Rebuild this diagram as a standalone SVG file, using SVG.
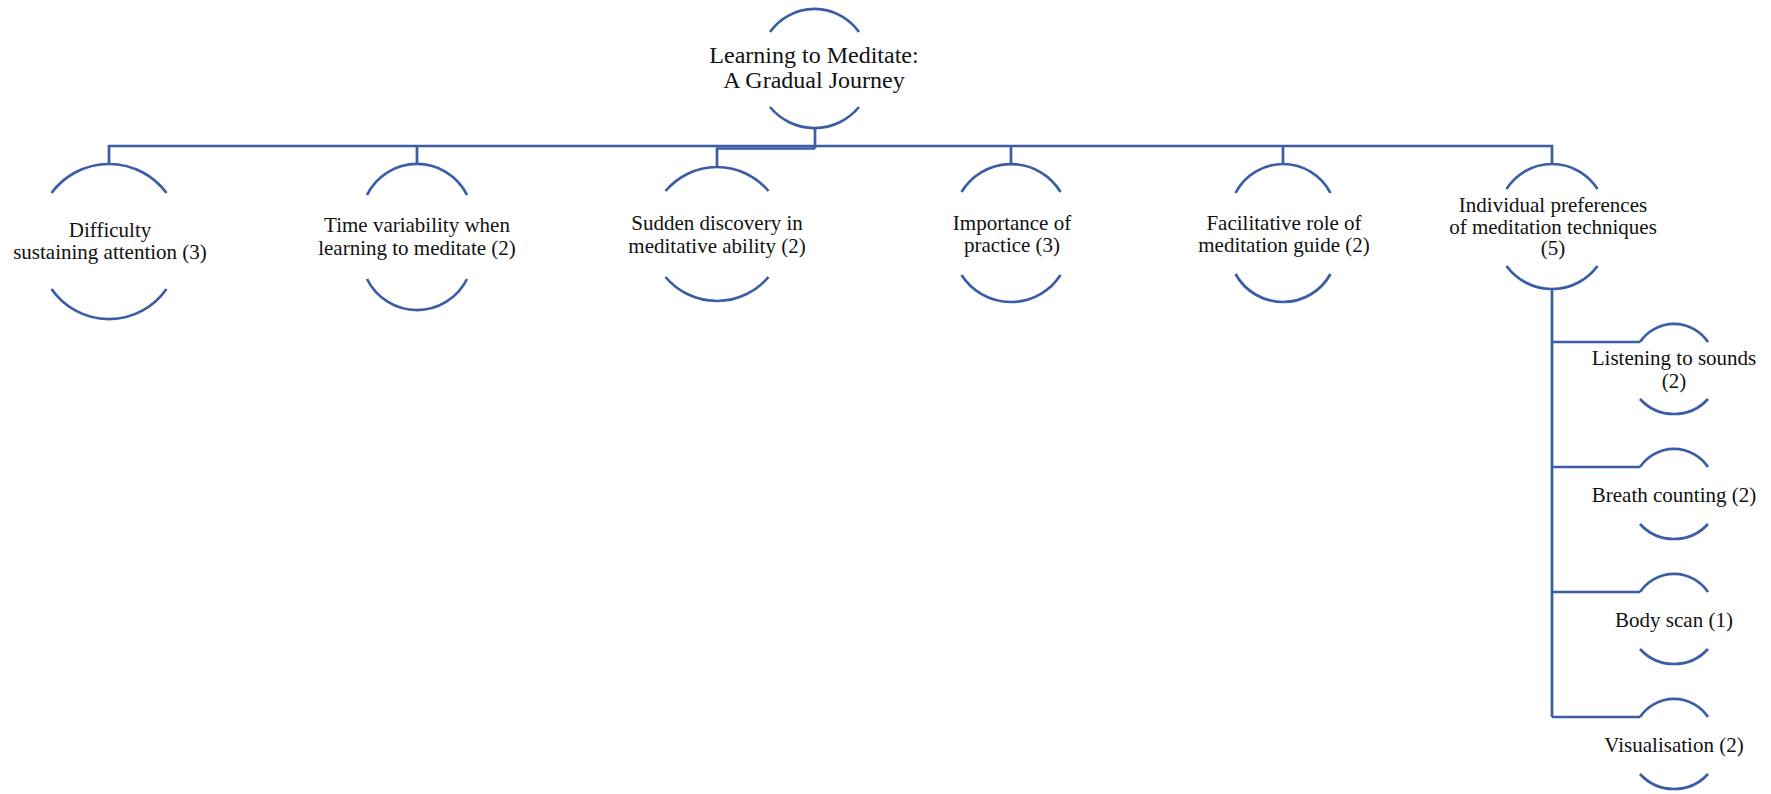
<svg xmlns="http://www.w3.org/2000/svg" width="1771" height="794" viewBox="0 0 1771 794">
<style>
.arc{fill:none;stroke:#3A5DA6;stroke-width:2.7;stroke-linecap:butt}
.conn{fill:none;stroke:#3A5DA6;stroke-width:2.7;stroke-linejoin:miter}
.lbl{font-family:"Liberation Serif","Times New Roman",serif;font-size:21px;text-anchor:middle;fill:#111}
.root{font-size:24px}
</style>
<rect width="1771" height="794" fill="#ffffff"/>
<g id="connectors">
<path class="conn" d="M815,128 V148.5"/>
<path class="conn" d="M109,164 V146 H1552 V164"/>
<path class="conn" d="M417,146 V164"/>
<path class="conn" d="M1011,146 V164"/>
<path class="conn" d="M1283,146 V164"/>
<path class="conn" d="M815,148.5 H717 V167"/>
<path class="conn" d="M1552,289 V717"/>
<path class="conn" d="M1552,342 H1640"/>
<path class="conn" d="M1552,467 H1640"/>
<path class="conn" d="M1552,592 H1640"/>
<path class="conn" d="M1552,717 H1640"/>
</g>
<g id="root">
<path class="arc" d="M770,32 A54.5,54.5 0 0 1 859,32"/>
<path class="arc" d="M770,107 A57.6,57.6 0 0 0 859,107"/>
<text class="lbl root" x="814" y="63">Learning to Meditate:</text>
<text class="lbl root" x="814" y="88">A Gradual Journey</text>
</g>
<g id="node-difficulty">
<path class="arc" d="M51.5,193 A71.5,71.5 0 0 1 166.5,193"/>
<path class="arc" d="M51.5,289 A70,70 0 0 0 166.5,289"/>
<text class="lbl" x="110" y="237">Difficulty</text>
<text class="lbl" x="110" y="258.5">sustaining attention (3)</text>
</g>
<g id="node-time">
<path class="arc" d="M367,195 A55.8,55.8 0 0 1 467,195"/>
<path class="arc" d="M367,279 A55.8,55.8 0 0 0 467,279"/>
<text class="lbl" x="417" y="232">Time variability when</text>
<text class="lbl" x="417" y="254.5">learning to meditate (2)</text>
</g>
<g id="node-sudden">
<path class="arc" d="M665.5,191 A67.3,67.3 0 0 1 768.5,191"/>
<path class="arc" d="M665.5,277 A67.3,67.3 0 0 0 768.5,277"/>
<text class="lbl" x="717" y="230">Sudden discovery in</text>
<text class="lbl" x="717" y="252.5">meditative ability (2)</text>
</g>
<g id="node-practice">
<path class="arc" d="M961.5,192 A57.8,57.8 0 0 1 1060.5,192"/>
<path class="arc" d="M961.5,275 A58.9,58.9 0 0 0 1060.5,275"/>
<text class="lbl" x="1012" y="230">Importance of</text>
<text class="lbl" x="1012" y="252">practice (3)</text>
</g>
<g id="node-guide">
<path class="arc" d="M1235.5,193 A53.4,53.4 0 0 1 1330.5,193"/>
<path class="arc" d="M1235.5,274 A54.3,54.3 0 0 0 1330.5,274"/>
<text class="lbl" x="1284" y="230">Facilitative role of</text>
<text class="lbl" x="1284" y="252">meditation guide (2)</text>
</g>
<g id="node-preferences">
<path class="arc" d="M1506.5,189 A53.9,53.9 0 0 1 1597.5,189"/>
<path class="arc" d="M1506.5,266 A56.5,56.5 0 0 0 1597.5,266"/>
<text class="lbl" x="1553" y="212">Individual preferences</text>
<text class="lbl" x="1553" y="234">of meditation techniques</text>
<text class="lbl" x="1553" y="255">(5)</text>
</g>
<g id="node-listening">
<path class="arc" d="M1640,342 A41,41 0 0 1 1708,342"/>
<path class="arc" d="M1640,399 A46,46 0 0 0 1708,399"/>
<text class="lbl" x="1674" y="365">Listening to sounds</text>
<text class="lbl" x="1674" y="388">(2)</text>
</g>
<g id="node-breath">
<path class="arc" d="M1640,467 A41,41 0 0 1 1708,467"/>
<path class="arc" d="M1640,524 A46,46 0 0 0 1708,524"/>
<text class="lbl" x="1674" y="502">Breath counting (2)</text>
</g>
<g id="node-bodyscan">
<path class="arc" d="M1640,592 A41,41 0 0 1 1708,592"/>
<path class="arc" d="M1640,649 A46,46 0 0 0 1708,649"/>
<text class="lbl" x="1674" y="627">Body scan (1)</text>
</g>
<g id="node-visualisation">
<path class="arc" d="M1640,717 A41,41 0 0 1 1708,717"/>
<path class="arc" d="M1640,774 A46,46 0 0 0 1708,774"/>
<text class="lbl" x="1674" y="752">Visualisation (2)</text>
</g>
</svg>
